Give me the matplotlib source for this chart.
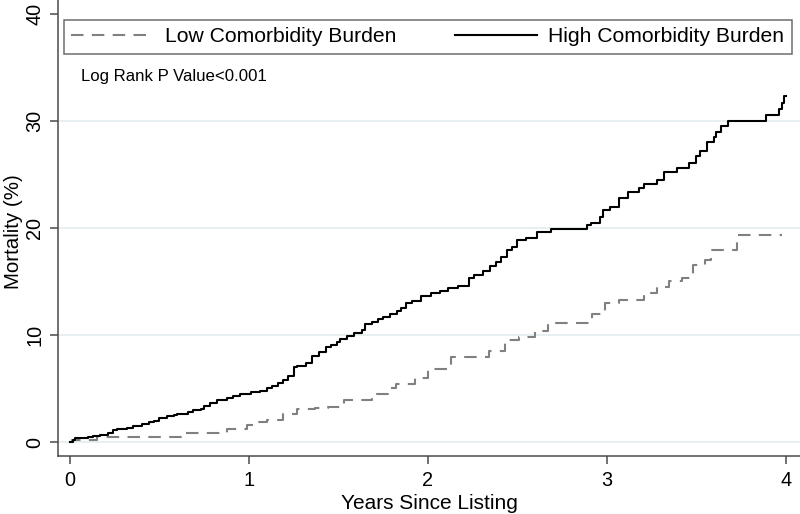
import matplotlib
matplotlib.use("Agg")
import matplotlib.pyplot as plt

plt.rcParams['font.family'] = ['Liberation Sans', 'DejaVu Sans']

# Kaplan-Meier style cumulative mortality
years_high = [0.0, 0.017, 0.028, 0.10, 0.13, 0.17, 0.21, 0.24, 0.26, 0.32, 0.35, 0.40,
              0.44, 0.47, 0.50, 0.54, 0.58, 0.60, 0.66, 0.69, 0.73, 0.75, 0.78, 0.82,
              0.88, 0.91, 0.95, 1.01, 1.06, 1.10, 1.13, 1.16, 1.19, 1.22, 1.25, 1.27,
              1.32, 1.35, 1.39, 1.43, 1.46, 1.49, 1.51, 1.55, 1.59, 1.63, 1.65, 1.69,
              1.72, 1.75, 1.79, 1.83, 1.85, 1.88, 1.91, 1.96, 2.02, 2.07, 2.11, 2.17,
              2.23, 2.26, 2.31, 2.35, 2.38, 2.41, 2.44, 2.47, 2.50, 2.55, 2.61, 2.69,
              2.89, 2.91, 2.96, 2.98, 3.02, 3.07, 3.12, 3.18, 3.21, 3.28, 3.32, 3.39,
              3.46, 3.50, 3.52, 3.56, 3.60, 3.61, 3.64, 3.68, 3.89, 3.96, 3.98, 3.99, 4.0]
mort_high = [0.0, 0.2, 0.4, 0.5, 0.6, 0.7, 0.85, 1.1, 1.2, 1.3, 1.5, 1.7,
             1.9, 2.0, 2.2, 2.4, 2.5, 2.6, 2.8, 3.0, 3.1, 3.4, 3.6, 3.9,
             4.1, 4.3, 4.5, 4.7, 4.8, 5.0, 5.2, 5.5, 5.8, 6.2, 7.0, 7.1,
             7.4, 8.0, 8.4, 8.9, 9.1, 9.3, 9.6, 9.9, 10.2, 10.5, 11.0, 11.2,
             11.5, 11.7, 12.0, 12.2, 12.5, 13.0, 13.2, 13.6, 13.9, 14.1, 14.4, 14.6,
             15.3, 15.6, 16.0, 16.4, 16.8, 17.3, 17.9, 18.2, 18.9, 19.1, 19.6, 19.9,
             20.3, 20.5, 21.0, 21.7, 22.0, 22.8, 23.4, 23.7, 24.1, 24.5, 25.2, 25.6,
             26.1, 26.7, 27.2, 28.0, 28.5, 29.0, 29.5, 30.0, 30.6, 31.1, 31.7, 32.3, 32.3]

years_low = [0.0, 0.01, 0.15, 0.63, 0.88, 0.99, 1.04, 1.10, 1.19, 1.27, 1.37, 1.44,
             1.53, 1.69, 1.78, 1.82, 1.93, 2.0, 2.13, 2.34, 2.43, 2.51, 2.60, 2.67,
             2.92, 2.99, 3.07, 3.21, 3.28, 3.35, 3.42, 3.48, 3.55, 3.58, 3.73, 3.98]
mort_low = [0.0, 0.2, 0.45, 0.85, 1.2, 1.6, 1.9, 2.1, 2.6, 3.1, 3.2, 3.3,
            3.9, 4.5, 5.0, 5.4, 6.0, 6.8, 7.9, 8.5, 9.5, 9.8, 10.4, 11.1,
            12.0, 13.0, 13.3, 13.9, 14.5, 15.0, 15.3, 16.5, 17.0, 17.9, 19.3, 19.3]

y_ticks = [0, 10, 20, 30, 40]
x_ticks = [0, 1, 2, 3, 4]

fig = plt.figure(figsize=(8, 5.14), dpi=100)
ax = fig.add_axes([0.0725, 0.1128, 0.9275, 0.8872])

spine_col = '#4a4a4a'
for y in [0, 10, 20, 30]:
    ax.axhline(y, color='#e3ecef', lw=1.2, zorder=0)

ax.step(years_low, mort_low, where='post', color='#808080', lw=1.5,
        dashes=(6, 4), label='Low Comorbidity Burden')
ax.step(years_high, mort_high, where='post', color='black', lw=1.5,
        label='High Comorbidity Burden')

ax.set_xlim(-0.067, 4.08)
ax.set_ylim(-1.31, 41.3)
ax.set_xticks(x_ticks)
ax.set_yticks(y_ticks)
ax.set_yticklabels([str(t) for t in y_ticks], rotation=90, va='center')
ax.tick_params(axis='both', labelsize=14.3, color=spine_col, length=6, width=1.1)
ax.tick_params(axis='y', pad=4)
ax.tick_params(axis='x', pad=5)

for s in ['top', 'right']:
    ax.spines[s].set_visible(False)
for s in ['left', 'bottom']:
    ax.spines[s].set_color(spine_col)
    ax.spines[s].set_linewidth(1.1)

ax.set_xlabel('Years Since Listing', fontsize=15, labelpad=3)
ax.set_ylabel('Mortality (%)', fontsize=14.8)
ax.yaxis.set_label_coords(-0.0475, 0.491)

ax.text(0.06, 33.7, 'Log Rank P Value<0.001', fontsize=12.1, va='baseline')

leg = ax.legend(loc='lower left', bbox_to_anchor=(0.008, 0.882, 0.981, 0.085),
                mode='expand', ncol=2, fontsize=15.2, handlelength=3.9,
                handletextpad=0.55, borderaxespad=0, fancybox=False,
                frameon=True, borderpad=0.35)
leg.get_frame().set_edgecolor('#4a4a4a')
leg.get_frame().set_linewidth(1.1)

fig.savefig('out.png', dpi=100)
